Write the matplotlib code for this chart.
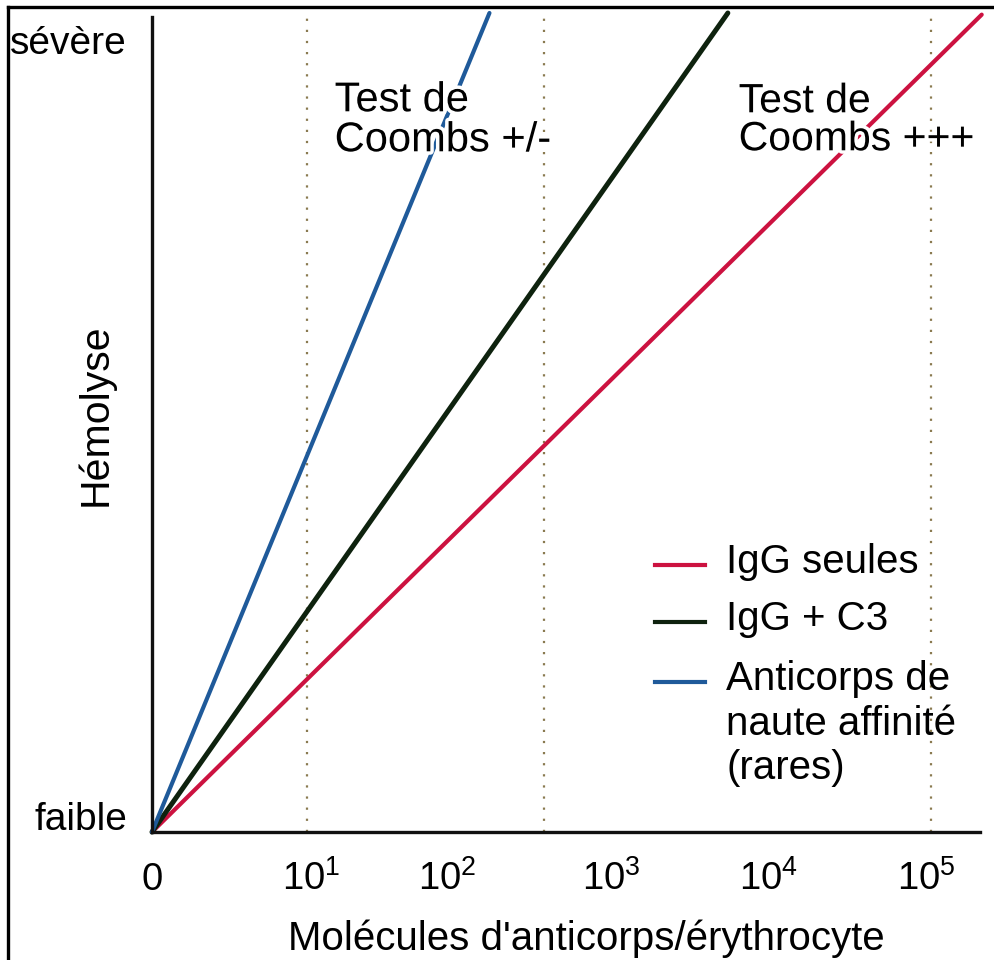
import matplotlib.pyplot as plt
import matplotlib.patheffects as pe
from matplotlib.lines import Line2D

plt.rcParams['font.family'] = ['Liberation Sans', 'DejaVu Sans']
plt.rcParams['mathtext.fontset'] = 'custom'
plt.rcParams['mathtext.rm'] = 'Liberation Sans'
plt.rcParams['mathtext.it'] = 'Liberation Sans:italic'

# positions (x in "decade" units, y from faible=0 to sévère=1)
tick_pos = [0, 1.03, 1.91, 2.97, 3.98, 5.0]
tick_labels = ['0', '$10^1$', '$10^2$', '$10^3$', '$10^4$', '$10^5$']
dotted_x = [1.0, 2.53, 5.03]
level_pos = [0.02, 0.967]
level_labels = ['faible', 'sévère']

series = ['IgG seules', 'IgG + C3', 'Anticorps de\nnaute affinité\n(rares)']
x_start = [0, 0, 0]
y_start = [0, 0, 0]
x_end = [5.36, 3.72, 2.18]
y_end = [0.998, 1.0, 1.0]
colors = ['#cc1240', '#0e220e', '#1f5a9a']
widths = [3.0, 3.6, 3.0]

fig = plt.figure(figsize=(9.95, 9.6), dpi=100)
ax = fig.add_axes([152 / 995, 128 / 960, 828 / 995, 819 / 960])
ax.set_xlim(0, 5.349)
ax.set_ylim(0, 1)

for xd in dotted_x:
    ax.plot([xd, xd], [0, 0.995], ls=(0, (1, 4)), color='#8a7a50', lw=1.6, zorder=1)

for i in range(3):
    ax.plot([x_start[i], x_end[i]], [y_start[i], y_end[i]], color=colors[i],
            lw=widths[i], solid_capstyle='round', clip_on=False, zorder=2)

for s in ['top', 'right']:
    ax.spines[s].set_visible(False)
for s in ['left', 'bottom']:
    ax.spines[s].set_linewidth(2.4)
    ax.spines[s].set_color('#111111')
ax.spines['left'].set_bounds(0, 0.995)

ax.set_xticks([])
ax.set_yticks(level_pos, level_labels, fontsize=28)
ax.tick_params(axis='y', length=0, pad=18)

for p, lab in zip(tick_pos, tick_labels):
    ax.text(p, -0.0708, lab, transform=ax.get_xaxis_transform(), ha='center',
            va='baseline', fontsize=27.5)

ax.set_xlabel("Molécules d'anticorps/érythrocyte", fontsize=29, va='top')
ax.xaxis.set_label_coords(0.525, -0.107)
ax.set_ylabel('Hémolyse', fontsize=29.5)
ax.yaxis.set_label_coords(-0.045, 0.509)

stroke = [pe.withStroke(linewidth=5, foreground='white')]
ax.text(1.18, 0.869, 'Test de\nCoombs +/-', fontsize=30, linespacing=1.0,
        va='center', ha='left', path_effects=stroke, zorder=5)
ax.text(3.79, 0.869, 'Test de\nCoombs +++', fontsize=29.5, linespacing=1.0,
        va='center', ha='left', path_effects=stroke, zorder=5)

# legend drawn by hand so the handle sits on the first text line
leg_y = [0.326, 0.256, 0.183]
for i in range(3):
    ax.add_line(Line2D([3.25, 3.57], [leg_y[i], leg_y[i]], color=colors[i], lw=3))
    ax.text(3.71, leg_y[i] + 0.027, series[i], fontsize=29, va='top', ha='left',
            linespacing=1.22)

# frame round the picture (left and top sides)
fig.add_artist(Line2D([8 / 995, 8 / 995], [0, 1 - 7 / 960], color='black', lw=2.4))
fig.add_artist(Line2D([8 / 995, 1], [1 - 7 / 960, 1 - 7 / 960], color='black', lw=2.4))

fig.savefig('out.png', dpi=100)
